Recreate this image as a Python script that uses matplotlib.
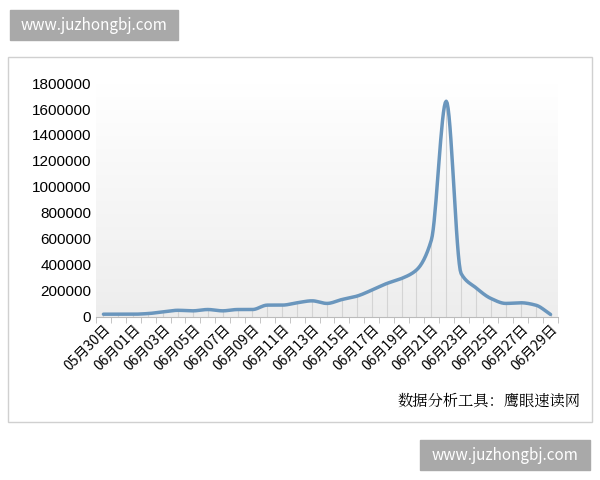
import numpy as np
import matplotlib.pyplot as plt
from matplotlib.patches import Rectangle

plt.rcParams['font.family'] = ['Noto Sans CJK SC', 'DejaVu Sans']

dates = ['05月30日', '05月31日'] + ['06月%02d日' % d for d in range(1, 30)]
values = [20000, 20000, 20000, 25000, 38000, 50000, 46000, 56000, 46000, 56000,
          56000, 90000, 90000, 108000, 123000, 103000, 133000, 159000, 205000, 256000,
          295000, 360000, 590000, 1660000, 333000, 223000, 141000, 103000, 108000, 90000,
          18000]
yticks = [0, 200000, 400000, 600000, 800000, 1000000, 1200000, 1400000, 1600000, 1800000]

x = np.arange(len(values))
y = np.array(values, dtype=float)

# monotone (pchip-style) cubic, only for drawing the smooth curve
def smooth(x, y, n=16):
    d = np.diff(y)
    m = np.zeros_like(y)
    for i in range(1, len(y) - 1):
        if d[i-1] * d[i] > 0:
            m[i] = 2 / (1 / d[i-1] + 1 / d[i])
    m[0], m[-1] = d[0], d[-1]
    xs, ys = [], []
    for i in range(len(y) - 1):
        t = np.linspace(0, 1, n, endpoint=False)
        h00 = 2*t**3 - 3*t**2 + 1; h10 = t**3 - 2*t**2 + t
        h01 = -2*t**3 + 3*t**2; h11 = t**3 - t**2
        xs.extend(x[i] + t)
        ys.extend(h00*y[i] + h10*m[i] + h01*y[i+1] + h11*m[i+1])
    xs.append(x[-1]); ys.append(y[-1])
    return np.array(xs), np.array(ys)

fig = plt.figure(figsize=(6, 4.8), dpi=100)
fig.patches.append(Rectangle((8/600, 1-422/480), 584/600, 365/480, transform=fig.transFigure,
                             fill=False, edgecolor='#d0d0d0', lw=1))
ax = fig.add_axes([0.16, 0.34, 0.77, 0.487])

g = np.linspace(1.0, 0.93, 100).reshape(-1, 1, 1) * np.ones((1, 1, 3))
ax.imshow(g, extent=[-0.5, len(x) - 0.5, 0, 1800000], aspect='auto', origin='upper', zorder=0)

ax.vlines(x, 0, y, color='#d4d4d4', lw=0.8, zorder=1)
sx, sy = smooth(x, y)
ax.plot(sx, sy, color='#6a96bd', lw=2.5, zorder=3, solid_capstyle='round')

ax.set_xlim(-0.5, len(x) - 0.5)
ax.set_ylim(0, 1800000)
ax.set_yticks(yticks)
ax.set_yticklabels([str(v) for v in yticks], fontsize=11, family='Liberation Sans')
ax.set_xticks(x[::2])
ax.set_xticklabels(dates[::2], rotation=45, ha='right', rotation_mode='anchor', fontsize=10)
ax.set_xticks(np.arange(len(x) + 1) - 0.5, minor=True)
ax.tick_params(axis='x', which='major', length=0, pad=4)
ax.tick_params(axis='x', which='minor', length=4, color='#bbbbbb')
ax.tick_params(axis='y', length=0)
for s in ['top', 'right', 'left']:
    ax.spines[s].set_visible(False)
ax.spines['bottom'].set_color('#bbbbbb')

fig.text(580/600, 1-402/480, '数据分析工具：鹰眼速读网', ha='right', va='center', fontsize=11,
         family=['Noto Serif CJK SC', 'Noto Sans CJK SC'])

# watermarks
fig.patches.append(Rectangle((10/600, 1-40/480), 168/600, 30/480, transform=fig.transFigure,
                             color='#a9a9a9'))
fig.text(94/600, 1-25/480, 'www.juzhongbj.com', color='white', ha='center', va='center', fontsize=11)
fig.patches.append(Rectangle((420/600, 1-470/480), 170/600, 30/480, transform=fig.transFigure,
                             color='#a9a9a9'))
fig.text(505/600, 1-455/480, 'www.juzhongbj.com', color='white', ha='center', va='center', fontsize=11)

fig.savefig('out.png', dpi=100)
